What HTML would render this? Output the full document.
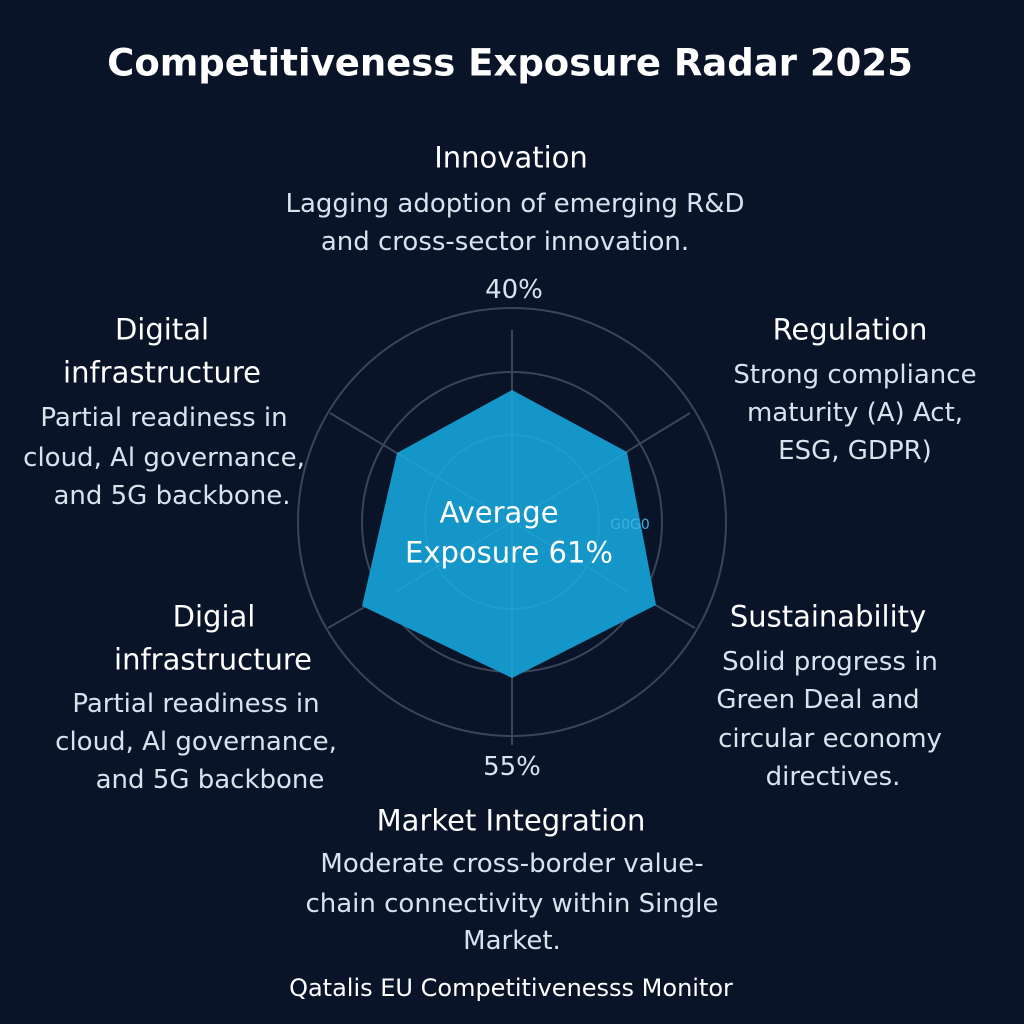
<!DOCTYPE html>
<html><head><meta charset="utf-8"><style>
html,body{margin:0;padding:0}
body{width:1024px;height:1024px;background:#0a1428;position:relative;overflow:hidden;font-family:"DejaVu Sans","Liberation Sans",sans-serif;}
.t{position:absolute;transform:translate(-50%,-50%);white-space:nowrap;line-height:1;}
.h{font-size:29px;color:#ffffff;}
.b{font-size:26px;color:#d6e4ee;}
</style></head><body>
<svg width="1024" height="1024" style="position:absolute;left:0;top:0">
<g fill="none" stroke="#3a4558" stroke-width="2">
<circle cx="512" cy="522" r="214"/>
<circle cx="512" cy="522" r="150"/>
<line x1="512" y1="330" x2="512" y2="745"/>
<line x1="512" y1="522" x2="690" y2="413"/>
<line x1="512" y1="522" x2="695" y2="628"/>
<line x1="512" y1="522" x2="330" y2="413"/>
<line x1="512" y1="522" x2="328" y2="628"/>
</g>
<polygon points="512,390 627,452 656,605 512,678 362,606 397,453" fill="#1596c8"/>
<g fill="none" stroke="#2aa3d2" stroke-width="1.5" opacity="0.6">
<circle cx="512" cy="522" r="87"/>
<line x1="512" y1="390" x2="512" y2="678"/>
<line x1="397" y1="453" x2="627" y2="591"/>
<line x1="627" y1="452" x2="397" y2="591"/>
</g>
<text x="630" y="529" font-family="DejaVu Sans" font-size="14" fill="#3fb0dc" text-anchor="middle">G0G0</text>
</svg>
<div class="t" style="left:510px;top:63px;font-size:37px;font-weight:bold;color:#fff">Competitiveness Exposure Radar 2025</div>

<div class="t h" style="left:511px;top:158px">Innovation</div>
<div class="t b" style="left:515px;top:204px">Lagging adoption of emerging R&amp;D</div>
<div class="t b" style="left:505px;top:242px">and cross-sector innovation.</div>
<div class="t b" style="left:514px;top:290px">40%</div>

<div class="t h" style="left:162px;top:330px">Digital</div>
<div class="t h" style="left:162px;top:373px">infrastructure</div>
<div class="t b" style="left:164px;top:418px">Partial readiness in</div>
<div class="t b" style="left:164px;top:458px">cloud, Al governance,</div>
<div class="t b" style="left:172px;top:496px">and 5G backbone.</div>

<div class="t h" style="left:850px;top:330px">Regulation</div>
<div class="t b" style="left:855px;top:375px">Strong compliance</div>
<div class="t b" style="left:855px;top:413px">maturity (A) Act,</div>
<div class="t b" style="left:855px;top:451px">ESG, GDPR)</div>

<div class="t" style="left:499px;top:513px;font-size:29px;color:#fff">Average</div>
<div class="t" style="left:509px;top:553px;font-size:29px;color:#fff">Exposure 61%</div>

<div class="t h" style="left:828px;top:617px">Sustainability</div>
<div class="t b" style="left:830px;top:662px">Solid progress in</div>
<div class="t b" style="left:818px;top:700px">Green Deal and</div>
<div class="t b" style="left:830px;top:739px">circular economy</div>
<div class="t b" style="left:833px;top:777px">directives.</div>

<div class="t h" style="left:214px;top:617px">Digial</div>
<div class="t h" style="left:213px;top:660px">infrastructure</div>
<div class="t b" style="left:196px;top:704px">Partial readiness in</div>
<div class="t b" style="left:196px;top:742px">cloud, Al governance,</div>
<div class="t b" style="left:210px;top:780px">and 5G backbone</div>

<div class="t b" style="left:512px;top:767px">55%</div>
<div class="t h" style="left:511px;top:821px">Market Integration</div>
<div class="t b" style="left:512px;top:864px">Moderate cross-border value-</div>
<div class="t b" style="left:512px;top:904px">chain connectivity within Single</div>
<div class="t b" style="left:512px;top:941px">Market.</div>
<div class="t" style="left:511px;top:988px;font-size:24px;color:#fff">Qatalis EU Competitivenesss Monitor</div>
</body></html>
